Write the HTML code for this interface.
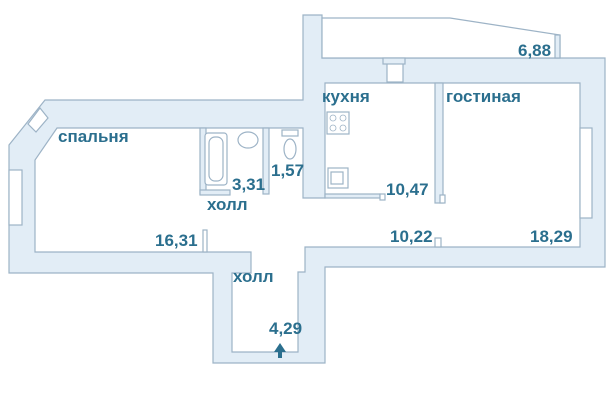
<!DOCTYPE html>
<html><head><meta charset="utf-8"><style>
html,body{margin:0;padding:0;background:#fff;width:610px;height:410px;overflow:hidden}
text{font-family:"Liberation Sans",sans-serif;font-weight:bold;fill:#2b6f8e;font-size:17px}
</style></head><body>
<svg width="610" height="410" viewBox="0 0 610 410" xmlns="http://www.w3.org/2000/svg">
<g stroke="#9db3c6" stroke-width="1.2">
<polygon fill="#e2edf6" points="45,100 303,100 303,15 322,15 322,58 605,58 605,267 325,267 325,363 213,363 213,273 9,273 9,145"/>
<polygon fill="#fff" points="57,128 303,128 303,198 325,198 325,83 580,83 580,247 305,247 305,272 298,272 298,352 232,352 232,273 251,273 251,252 35,252 35,160"/>
<polygon fill="#fff" points="322,18 450,18 560,35 560,58 322,58"/>
<rect x="555" y="35" width="5" height="23" fill="#e2edf6"/>
<rect x="435" y="83" width="8" height="120" fill="#e2edf6"/>
<rect x="440" y="195" width="5" height="8" fill="#fff"/>
<rect x="387" y="62" width="16" height="20" fill="#fff"/>
<rect x="383" y="58" width="22" height="6" fill="#e2edf6"/>
<rect x="325" y="194" width="55" height="4" fill="#e2edf6"/>
<rect x="380" y="194" width="5" height="6" fill="#fff"/>
<rect x="200" y="128" width="6" height="66" fill="#e2edf6"/>
<rect x="263" y="128" width="6" height="66" fill="#e2edf6"/>
<rect x="200" y="190" width="30" height="5" fill="#e2edf6"/>
<rect x="205" y="133" width="22" height="52" rx="3" fill="#fff"/>
<rect x="209" y="137" width="14" height="44" rx="6" fill="#fff"/>
<ellipse cx="248" cy="140" rx="10" ry="8" fill="#fff"/>
<rect x="282" y="130" width="16" height="6" fill="#fff"/>
<ellipse cx="290" cy="149" rx="6" ry="10" fill="#fff"/>
<rect x="327" y="112" width="22" height="22" fill="#fff"/>
<rect x="328" y="168" width="20" height="20" fill="#fff"/>
<rect x="331" y="172" width="12" height="12" fill="#fff"/>
<rect x="9" y="170" width="13" height="55" fill="#fff"/>
<rect x="580" y="128" width="12" height="90" fill="#fff"/>
<polygon fill="#fff" points="40,108 48,118 36,132 28,124"/>
<rect x="203" y="230" width="4" height="22" fill="#fff"/>
<rect x="435" y="238" width="6" height="9" fill="#fff"/>
</g>
<g fill="#fff" stroke="#9db3c6" stroke-width="0.8">
<circle cx="333" cy="118" r="3"/><circle cx="343" cy="118" r="3"/>
<circle cx="333" cy="128" r="3"/><circle cx="343" cy="128" r="3"/>
</g>
<text x="58" y="142">спальня</text>
<text x="322" y="102">кухня</text>
<text x="446" y="102">гостиная</text>
<text x="518" y="56">6,88</text>
<text x="232" y="190">3,31</text>
<text x="271" y="176">1,57</text>
<text x="207" y="210">холл</text>
<text x="386" y="195">10,47</text>
<text x="155" y="246">16,31</text>
<text x="390" y="242">10,22</text>
<text x="530" y="242">18,29</text>
<text x="233" y="282">холл</text>
<text x="269" y="334">4,29</text>
<polygon points="280,343 274,352 278,352 278,358 282,358 282,352 286,352" fill="#2b6f8e"/>
</svg>
</body></html>
